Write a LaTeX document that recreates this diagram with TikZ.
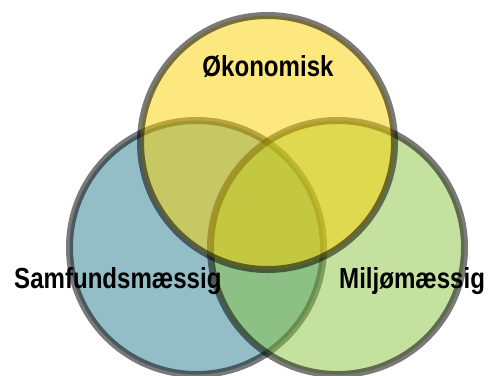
\documentclass[tikz,border=0pt]{standalone}
\usepackage{fontspec}
\setmainfont{Liberation Sans}
\newfontfamily\labelfont[FakeStretch=0.83]{Liberation Sans}
\definecolor{econfill}{RGB}{251,209,0}
\definecolor{socfill}{RGB}{147,190,200}
\definecolor{envfill}{RGB}{137,195,65}
\begin{document}
\begin{tikzpicture}[x=1pt,y=-1pt,
  ring/.style={draw=black,draw opacity=0.52,line width=7pt},
  label/.style={font=\labelfont\bfseries\fontsize{29}{30}\selectfont,text=black,inner sep=0pt}]
\useasboundingbox (0,0) rectangle (494,375);
% social (left), environmental (right), economic (top)
\path[ring,fill=socfill] (196.5,247.5) circle (127);
\path[ring,fill=envfill,fill opacity=0.5] (337.5,247.5) circle (127);
\path[ring,fill=econfill,fill opacity=0.5] (267.5,142.5) circle (127);
\node[label,anchor=base] (econ) at (268,76) {Økonomisk};
\node[label,anchor=base west] (soc) at (14,288) {Samfundsmæssig};
\node[label,anchor=base west] (env) at (339,288) {Miljømæssig};
\end{tikzpicture}
\end{document}
